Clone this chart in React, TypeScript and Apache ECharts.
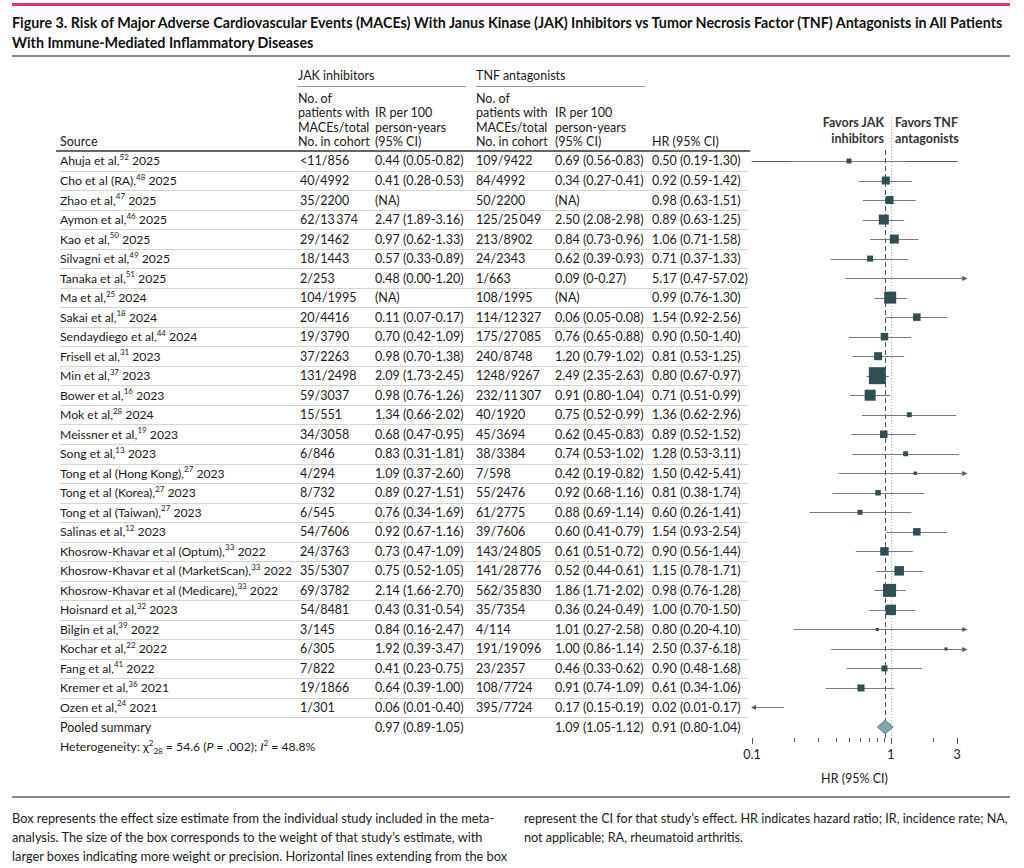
import React, { useEffect, useRef } from "react";
import * as echarts from "echarts";

const FONT = "Lato, 'Liberation Sans', sans-serif";
const TXT = "#1a1a1a";

const titleLines = [
  "Figure 3. Risk of Major Adverse Cardiovascular Events (MACEs) With Janus Kinase (JAK) Inhibitors vs Tumor Necrosis Factor (TNF) Antagonists in All Patients",
  "With Immune-Mediated Inflammatory Diseases",
];

const sourceNames = [
  "Ahuja et al,", "Cho et al (RA),", "Zhao et al,", "Aymon et al,", "Kao et al,", "Silvagni et al,",
  "Tanaka et al,", "Ma et al,", "Sakai et al,", "Sendaydiego et al,", "Frisell et al,", "Min et al,",
  "Bower et al,", "Mok et al,", "Meissner et al,", "Song et al,", "Tong et al (Hong Kong),",
  "Tong et al (Korea),", "Tong et al (Taiwan),", "Salinas et al,", "Khosrow-Khavar et al (Optum),",
  "Khosrow-Khavar et al (MarketScan),", "Khosrow-Khavar et al (Medicare),", "Hoisnard et al,",
  "Bilgin et al,", "Kochar et al,", "Fang et al,", "Kremer et al,", "Ozen et al,",
];
const refs = [52, 48, 47, 46, 50, 49, 51, 25, 18, 44, 31, 37, 16, 28, 19, 13, 27, 27, 27, 12, 33, 33, 33, 32, 39, 22, 41, 36, 24];
const years = [2025, 2025, 2025, 2025, 2025, 2025, 2025, 2024, 2024, 2024, 2023, 2023, 2023, 2024, 2023, 2023, 2023, 2023, 2023, 2023, 2022, 2022, 2022, 2023, 2022, 2022, 2022, 2021, 2021];

const jakCohort = [
  "<11/856", "40/4992", "35/2200", "62/13\u2009374", "29/1462", "18/1443", "2/253", "104/1995", "20/4416",
  "19/3790", "37/2263", "131/2498", "59/3037", "15/551", "34/3058", "6/846", "4/294", "8/732", "6/545",
  "54/7606", "24/3763", "35/5307", "69/3782", "54/8481", "3/145", "6/305", "7/822", "19/1866", "1/301",
];
const jakIR = [
  "0.44 (0.05-0.82)", "0.41 (0.28-0.53)", "(NA)", "2.47 (1.89-3.16)", "0.97 (0.62-1.33)", "0.57 (0.33-0.89)",
  "0.48 (0.00-1.20)", "(NA)", "0.11 (0.07-0.17)", "0.70 (0.42-1.09)", "0.98 (0.70-1.38)", "2.09 (1.73-2.45)",
  "0.98 (0.76-1.26)", "1.34 (0.66-2.02)", "0.68 (0.47-0.95)", "0.83 (0.31-1.81)", "1.09 (0.37-2.60)",
  "0.89 (0.27-1.51)", "0.76 (0.34-1.69)", "0.92 (0.67-1.16)", "0.73 (0.47-1.09)", "0.75 (0.52-1.05)",
  "2.14 (1.66-2.70)", "0.43 (0.31-0.54)", "0.84 (0.16-2.47)", "1.92 (0.39-3.47)", "0.41 (0.23-0.75)",
  "0.64 (0.39-1.00)", "0.06 (0.01-0.40)",
];
const tnfCohort = [
  "109/9422", "84/4992", "50/2200", "125/25\u2009049", "213/8902", "24/2343", "1/663", "108/1995",
  "114/12\u2009327", "175/27\u2009085", "240/8748", "1248/9267", "232/11\u2009307", "40/1920", "45/3694",
  "38/3384", "7/598", "55/2476", "61/2775", "39/7606", "143/24\u2009805", "141/28\u2009776", "562/35\u2009830",
  "35/7354", "4/114", "191/19\u2009096", "23/2357", "108/7724", "395/7724",
];
const tnfIR = [
  "0.69 (0.56-0.83)", "0.34 (0.27-0.41)", "(NA)", "2.50 (2.08-2.98)", "0.84 (0.73-0.96)", "0.62 (0.39-0.93)",
  "0.09 (0-0.27)", "(NA)", "0.06 (0.05-0.08)", "0.76 (0.65-0.88)", "1.20 (0.79-1.02)", "2.49 (2.35-2.63)",
  "0.91 (0.80-1.04)", "0.75 (0.52-0.99)", "0.62 (0.45-0.83)", "0.74 (0.53-1.02)", "0.42 (0.19-0.82)",
  "0.92 (0.68-1.16)", "0.88 (0.69-1.14)", "0.60 (0.41-0.79)", "0.61 (0.51-0.72)", "0.52 (0.44-0.61)",
  "1.86 (1.71-2.02)", "0.36 (0.24-0.49)", "1.01 (0.27-2.58)", "1.00 (0.86-1.14)", "0.46 (0.33-0.62)",
  "0.91 (0.74-1.09)", "0.17 (0.15-0.19)",
];
const hr = [0.5, 0.92, 0.98, 0.89, 1.06, 0.71, 5.17, 0.99, 1.54, 0.9, 0.81, 0.8, 0.71, 1.36, 0.89, 1.28, 1.5, 0.81, 0.6, 1.54, 0.9, 1.15, 0.98, 1.0, 0.8, 2.5, 0.9, 0.61, 0.02];
const hrLo = [0.19, 0.59, 0.63, 0.63, 0.71, 0.37, 0.47, 0.76, 0.92, 0.5, 0.53, 0.67, 0.51, 0.62, 0.52, 0.53, 0.42, 0.38, 0.26, 0.93, 0.56, 0.78, 0.76, 0.7, 0.2, 0.37, 0.48, 0.34, 0.01];
const hrHi = [1.3, 1.42, 1.51, 1.25, 1.58, 1.33, 57.02, 1.3, 2.56, 1.4, 1.25, 0.97, 0.99, 2.96, 1.52, 3.11, 5.41, 1.74, 1.41, 2.54, 1.44, 1.71, 1.28, 1.5, 4.1, 6.18, 1.68, 1.06, 0.17];
// estimated study weights (%), shown as box area
const weights = [1.3, 3.4, 3.4, 5.3, 4.3, 1.9, 0.5, 7.6, 3.0, 3.0, 3.4, 15.3, 6.4, 1.3, 3.0, 1.3, 0.6, 1.6, 1.3, 3.0, 3.8, 4.8, 9.0, 5.8, 0.5, 0.5, 1.9, 2.6, 0.2];

const pooledLabel = "Pooled summary";
const pooledJakIR = "0.97 (0.89-1.05)";
const pooledTnfIR = "1.09 (1.05-1.12)";
const pooledHR = [0.91, 0.8, 1.04];

const xTickValues = [0.1, 0.2, 0.3, 0.4, 0.5, 0.6, 0.7, 0.8, 0.9, 1, 2, 3];
const xLabelValues = [0.1, 1, 3];

const footerLeft = [
  "Box represents the effect size estimate from the individual study included in the meta-",
  "analysis. The size of the box corresponds to the weight of that study\u2019s estimate, with",
  "larger boxes indicating more weight or precision. Horizontal lines extending from the box",
];
const footerRight = [
  "represent the CI for that study\u2019s effect. HR indicates hazard ratio; IR, incidence rate; NA,",
  "not applicable; RA, rheumatoid arthritis.",
];

const fmt = (v: number) => v.toFixed(2);

const COL = { src: 60, jc: 300, ji: 375, tc: 476, ti: 555, hr: 652 };
const FS = 12.5;

function App() {
  const ref = useRef<HTMLDivElement>(null);
  useEffect(() => {
    document.body.style.margin = "0";
    const chart = echarts.init(ref.current!, undefined, { renderer: "svg" });
    const nRows = sourceNames.length; // 29
    const rowIdx = Array.from({ length: nRows + 2 }, (_, i) => i); // studies + pooled + heterogeneity

    const txt = (x: number, y: number, text: string, extra: any = {}) => ({
      type: "text",
      x,
      y,
      style: { text, fill: TXT, fontSize: FS, fontFamily: FONT, align: "left", verticalAlign: "middle", ...extra },
    });

    const g: any[] = [];
    g.push({ type: "rect", shape: { x: 12, y: 3, width: 998, height: 3 }, style: { fill: "#e4316e" } });
    g.push({ type: "text", x: 12, y: 22, style: { text: titleLines[0], fill: "#111", fontSize: 14.3, fontWeight: "bold", fontFamily: FONT, verticalAlign: "middle" } });
    g.push({ type: "text", x: 12, y: 42, style: { text: titleLines[1], fill: "#111", fontSize: 14.3, fontWeight: "bold", fontFamily: FONT, verticalAlign: "middle" } });
    g.push({ type: "rect", shape: { x: 12, y: 55, width: 998, height: 2 }, style: { fill: "#8a8a8a" } });
    g.push(txt(COL.jc - 2, 75, "JAK inhibitors"));
    g.push(txt(COL.tc, 75, "TNF antagonists"));
    g.push({ type: "line", shape: { x1: COL.jc - 2, y1: 86.5, x2: 466, y2: 86.5 }, style: { stroke: "#999", lineWidth: 1 } });
    g.push({ type: "line", shape: { x1: COL.tc, y1: 86.5, x2: 645, y2: 86.5 }, style: { stroke: "#999", lineWidth: 1 } });
    const h1 = ["No. of", "patients with", "MACEs/total", "No. in cohort"];
    const h2 = ["IR per 100", "person-years", "(95% CI)"];
    const hy = [98, 112.5, 127, 141.5];
    h1.forEach((t, k) => { g.push(txt(COL.jc - 2, hy[k], t)); g.push(txt(COL.tc, hy[k], t)); });
    h2.forEach((t, k) => { g.push(txt(COL.ji, hy[k + 1], t)); g.push(txt(COL.ti, hy[k + 1], t)); });
    g.push(txt(COL.src, 141.5, "Source"));
    g.push(txt(COL.hr, 141.5, "HR (95% CI)"));
    g.push({ type: "line", shape: { x1: 56, y1: 151, x2: 750, y2: 151 }, style: { stroke: "#333", lineWidth: 1.5 } });
    g.push(txt(884, 122, "Favors JAK", { align: "right", fontWeight: "bold", fill: "#333" }));
    g.push(txt(884, 138, "inhibitors", { align: "right", fontWeight: "bold", fill: "#333" }));
    g.push(txt(895, 122, "Favors TNF", { fontWeight: "bold", fill: "#333" }));
    g.push(txt(895, 138, "antagonists", { fontWeight: "bold", fill: "#333" }));
    g.push({ type: "rect", shape: { x: 12, y: 796, width: 998, height: 2 }, style: { fill: "#8a8a8a" } });
    footerLeft.forEach((t, k) => g.push(txt(12, 818 + k * 19, t, { fontSize: 12.8, fill: "#222" })));
    footerRight.forEach((t, k) => g.push(txt(524, 818 + k * 19, t, { fontSize: 12.6, fill: "#222" })));

    const richBase = {
      a: { fontSize: 12.2, fontFamily: FONT, fill: TXT, lineHeight: 16 },
      s: { fontSize: 8, fontFamily: FONT, fill: TXT, lineHeight: 9, verticalAlign: "top" },
      b: { fontSize: 8, fontFamily: FONT, fill: TXT, lineHeight: 9, verticalAlign: "bottom" },
      i: { fontSize: 12.2, fontFamily: FONT, fill: TXT, lineHeight: 16, fontStyle: "italic" },
    };

    const renderRow = (params: any, api: any) => {
      const i = params.dataIndex;
      const y = api.coord([1, i])[1];
      const ch: any[] = [];
      if (i >= 1 && i <= nRows) {
        const ys = Math.round(api.coord([1, i - 0.5])[1]) + 0.5;
        ch.push({ type: "line", shape: { x1: 60, y1: ys, x2: 748, y2: ys }, style: { stroke: "#d4d4d4", lineWidth: 1 } });
      }
      if (i < nRows) {
        ch.push({ type: "text", x: COL.src, y, style: { text: `{a|${sourceNames[i]}}{s|${refs[i]}}{a| ${years[i]}}`, rich: richBase, verticalAlign: "middle", align: "left" } });
        ch.push(txt(COL.jc, y, jakCohort[i]));
        ch.push(txt(COL.ji, y, jakIR[i]));
        ch.push(txt(COL.tc, y, tnfCohort[i]));
        ch.push(txt(COL.ti, y, tnfIR[i]));
        ch.push(txt(COL.hr, y, `${fmt(hr[i])} (${fmt(hrLo[i])}-${fmt(hrHi[i])})`));
        const minV = 0.1, maxV = 3.5;
        const lo = Math.max(hrLo[i], minV), hi = Math.min(hrHi[i], maxV);
        const x1 = api.coord([lo, i])[0], x2 = api.coord([hi, i])[0];
        const yl = Math.round(y) + 0.5;
        ch.push({ type: "line", shape: { x1, y1: yl, x2, y2: yl }, style: { stroke: "#7a7a7a", lineWidth: 1 } });
        if (hrHi[i] > maxV) ch.push({ type: "polygon", shape: { points: [[x2 + 1, yl], [x2 - 4, yl - 2.5], [x2 - 4, yl + 2.5]] }, style: { fill: "#555" } });
        if (hrLo[i] < minV) ch.push({ type: "polygon", shape: { points: [[x1 - 1, yl], [x1 + 4, yl - 2.5], [x1 + 4, yl + 2.5]] }, style: { fill: "#555" } });
        if (hr[i] >= minV && hr[i] <= 3) {
          const cx = api.coord([hr[i], i])[0];
          const s = Math.sqrt(weights[i] * 18.86);
          ch.push({ type: "rect", shape: { x: cx - s / 2, y: y - s / 2, width: s, height: s }, style: { fill: "#2e5053" } });
        }
      } else if (i === nRows) {
        ch.push(txt(COL.src, y, pooledLabel));
        ch.push(txt(COL.ji, y, pooledJakIR));
        ch.push(txt(COL.ti, y, pooledTnfIR));
        ch.push(txt(COL.hr, y, `${fmt(pooledHR[0])} (${fmt(pooledHR[1])}-${fmt(pooledHR[2])})`));
        const [cx] = api.coord([pooledHR[0], i]);
        const [lx] = api.coord([pooledHR[1], i]);
        const [rx] = api.coord([pooledHR[2], i]);
        ch.push({ type: "polygon", shape: { points: [[lx, y], [cx, y - 7], [rx, y], [cx, y + 7]] }, style: { fill: "#7ea5a9", stroke: "#527c80", lineWidth: 0.8 } });
      } else {
        ch.push({
          type: "text", x: COL.src, y,
          style: {
            text: "{a|Heterogeneity: \u03c7}{s|2}{b|28}{a| = 54.6 (}{i|P}{a| = .002); }{i|I}{s|2}{a| = 48.8%}",
            rich: richBase, verticalAlign: "middle", align: "left",
          },
        });
      }
      return { type: "group", children: ch };
    };

    const renderRefs = (params: any, api: any) => {
      const [xd] = api.coord([pooledHR[0], 0]);
      const [x1] = api.coord([1, 0]);
      const top = api.coord([1, -0.5636])[1];
      const top1 = api.coord([1, -2.25])[1];
      const bot = api.coord([1, 29.5636])[1];
      const ticks = xTickValues.map((v) => {
        const tx = Math.round(api.coord([v, 0])[0]) + 0.5;
        const len = xLabelValues.indexOf(v) >= 0 ? 6 : 4;
        return { type: "line", shape: { x1: tx, y1: bot, x2: tx, y2: bot + len }, style: { stroke: "#555", lineWidth: 1 } };
      });
      return {
        type: "group",
        children: [
          { type: "line", shape: { x1: Math.round(x1) + 0.5, y1: top1, x2: Math.round(x1) + 0.5, y2: bot }, style: { stroke: "#aaa", lineWidth: 1, lineDash: [1, 2] } },
          { type: "line", shape: { x1: Math.round(xd) + 0.5, y1: top, x2: Math.round(xd) + 0.5, y2: bot }, style: { stroke: "#555", lineWidth: 1, lineDash: [5, 3] } },
          ...ticks,
        ],
      };
    };

    chart.setOption({
      animation: false,
      grid: { left: 752, right: 67, top: 150, bottom: 130 },
      xAxis: {
        type: "log",
        logBase: 10,
        min: 0.1,
        max: 3,
        name: "HR (95% CI)",
        nameLocation: "middle",
        nameGap: 34,
        nameTextStyle: { fontSize: 12.5, fontFamily: FONT, color: TXT },
        axisLine: { lineStyle: { color: "#555", width: 1 } },
        axisTick: { show: false },
        axisLabel: { customValues: xLabelValues, formatter: (v: number) => String(v), fontSize: 12.5, fontFamily: FONT, color: TXT, margin: 10 },
        splitLine: { show: false },
        minorTick: { show: false },
      },
      yAxis: { type: "value", inverse: true, min: -0.5636, max: 29.5636, show: false },
      graphic: { elements: g },
      series: [
        { type: "custom", z: 1, clip: false, renderItem: renderRefs, data: [[1, 0]], encode: { x: 0, y: 1 }, silent: true },
        { type: "custom", z: 2, clip: false, renderItem: renderRow, data: rowIdx.map((i) => [1, i]), encode: { x: 0, y: 1 }, silent: true },
      ],
    });
    return () => chart.dispose();
  }, []);
  return <div ref={ref} style={{ width: 1024, height: 868 }} />;
}

export default App;
